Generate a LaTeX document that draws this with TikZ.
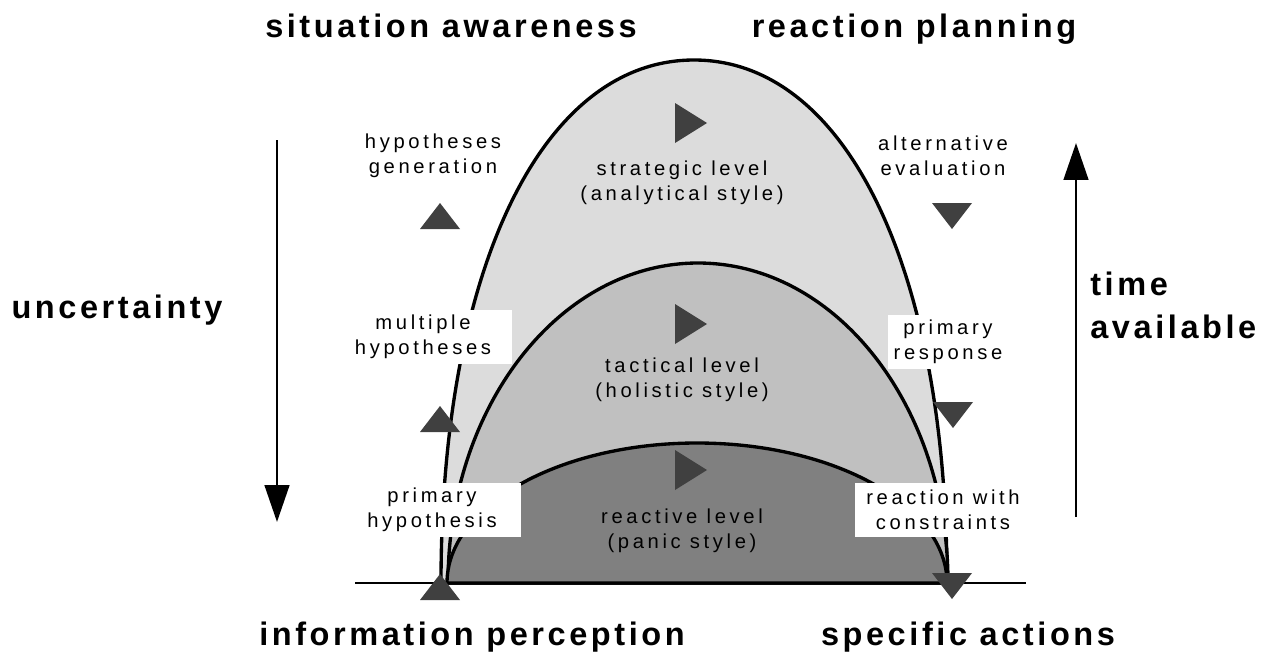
\documentclass[tikz,border=0pt]{standalone}
\usepackage{fontspec}
\setmainfont{Liberation Sans}
\newfontfamily\smallfont[LetterSpace=18]{Liberation Sans}
\newfontfamily\headfont[LetterSpace=11]{Liberation Sans Bold}
\usetikzlibrary{arrows.meta}
\definecolor{outergray}{RGB}{220,220,220}
\definecolor{middlegray}{RGB}{192,192,192}
\definecolor{innergray}{RGB}{128,128,128}
\definecolor{markgray}{RGB}{64,64,64}
\tikzset{
  archline/.style={draw=black,line width=1.9pt},
  outerarch/.style={archline,fill=outergray},
  middlearch/.style={archline,fill=middlegray},
  innerarch/.style={archline,fill=innergray},
  groundline/.style={draw=black,line width=1.1pt},
  headtext/.style={font=\headfont\fontsize{18.5}{22}\selectfont,anchor=base,inner sep=0pt},
  smalltext/.style={font=\smallfont\fontsize{11.5}{14.2}\selectfont,align=center,inner sep=0pt},
  whitebox/.style={smalltext,fill=white,minimum height=1.07cm},
  marker/.style={fill=markgray},
  timearr/.style={-{Triangle[width=14pt,length=21pt]},line width=1.5pt}
}
% small dark markers
\newcommand{\triup}[1]{\fill[marker] (#1) +(-20,13) -- +(20,13) -- +(0,-13) -- cycle;}
\newcommand{\tridown}[1]{\fill[marker] (#1) +(-20,-13) -- +(20,-13) -- +(0,13) -- cycle;}
\newcommand{\triright}[1]{\fill[marker] (#1) +(-16,-20) -- +(16,0) -- +(-16,20) -- cycle;}

\begin{document}
\begin{tikzpicture}[x=0.02cm,y=-0.02cm]
  \useasboundingbox (0,0) rectangle (1267,660);

  % the three levels
  \draw[outerarch] (441,583) .. controls (441,269) and (542,60) .. (694,60)
                   .. controls (846,60) and (947,269) .. (947,583) -- cycle;
  \draw[middlearch] (448,583) .. controls (448,406) and (560,263) .. (698,263)
                    .. controls (836,263) and (948,406) .. (948,583) -- cycle;
  \draw[innerarch] (447,583) .. controls (447,506) and (559,443) .. (697,443)
                   .. controls (835,443) and (947,506) .. (947,583) -- cycle;

  \coordinate (groundL) at (355,583);
  \coordinate (groundR) at (1026,583);
  \draw[groundline] (groundL) -- (groundR);

  % level texts
  \node[smalltext] (strat) at (682,183) {strategic level\\(analytical style)};
  \node[smalltext] (tact) at (682,380) {tactical level\\(holistic style)};
  \node[smalltext] (react) at (682,531) {reactive level\\(panic style)};

  % side labels
  \node[smalltext] (hypgen) at (433,156) {hypotheses\\generation};
  \node[smalltext] (alteval) at (943,156) {alternative\\evaluation};
  \node[whitebox,minimum width=3.56cm] (multhyp) at (423,337) {multiple\\hypotheses};
  \node[whitebox,minimum width=2.4cm] (primresp) at (948,342) {primary\\response};
  \node[whitebox,minimum width=3.56cm] (primhyp) at (432,510) {primary\\hypothesis};
  \node[whitebox,minimum width=3.52cm] (reactcon) at (943,510) {reaction with\\constraints};

  % markers
  \coordinate (m1) at (440,216);  \coordinate (m2) at (952,216);
  \coordinate (m3) at (440,419);  \coordinate (m4) at (953,415);
  \coordinate (m5) at (440,587);  \coordinate (m6) at (952,586);
  \coordinate (s1) at (691,123);  \coordinate (s2) at (691,324);
  \coordinate (s3) at (691,470);
  \triup{m1} \tridown{m2}
  \triup{m3} \tridown{m4}
  \triup{m5} \tridown{m6}
  \triright{s1} \triright{s2} \triright{s3}

  % headings
  \node[headtext] (sitaw) at (451,37) {situation awareness};
  \node[headtext] (reacpl) at (914,37) {reaction planning};
  \node[headtext] (infop) at (472,645) {information perception};
  \node[headtext] (specac) at (968,645) {specific actions};
  \node[headtext] (uncert) at (117,318) {uncertainty};
  \node[headtext,anchor=base west] (timeav) at (1090,295) {time};
  \node[headtext,anchor=base west] (avail) at (1090,338) {available};

  % vertical arrows
  \coordinate (uncTop) at (277,140);
  \coordinate (uncBot) at (277,522);
  \coordinate (timeBot) at (1076,517);
  \coordinate (timeTop) at (1076,143);
  \draw[timearr] (uncTop) -- (uncBot);
  \draw[timearr] (timeBot) -- (timeTop);
\end{tikzpicture}
\end{document}
